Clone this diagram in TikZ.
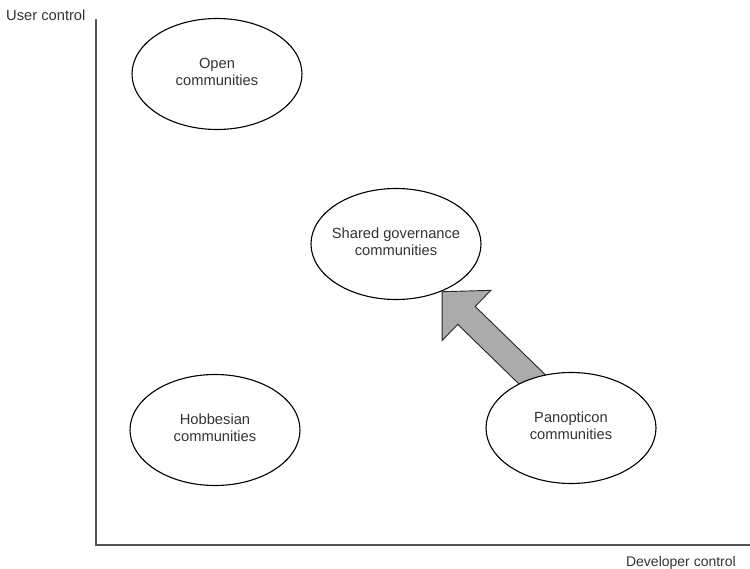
\documentclass[tikz,border=0pt]{standalone}
\usepackage{fontspec}
\setmainfont{Liberation Sans}
\usetikzlibrary{shapes.geometric,calc}
\pgfdeclarelayer{bg}
\pgfsetlayers{bg,main}
\definecolor{txt}{HTML}{333333}
\definecolor{axisc}{HTML}{555555}
\definecolor{arrfill}{HTML}{ABABAB}
\newcommand\twolines[2]{\makebox[0pt]{\begin{tabular}{@{}c@{}}#1\\#2\end{tabular}}}
\begin{document}
\begin{tikzpicture}[x=1pt,y=-1pt,
  comm/.style={ellipse, draw=black, line width=1.1pt, fill=white, minimum width=170pt, minimum height=111pt, inner sep=0pt, text=txt, font=\fontsize{14.7}{17}\selectfont},
  axisline/.style={draw=axisc, line width=1.8pt},
  axislabel/.style={text=txt, inner sep=0pt},
  blockarrow/.style={draw=black!85, line width=0.9pt, fill=arrfill, line join=miter}]
\useasboundingbox (0,0) rectangle (750,569);
% axes
\coordinate (ytop) at (96,19);
\coordinate (origin) at (96,545);
\coordinate (xend) at (750,545);
\draw[axisline] (ytop) -- (origin) -- (xend);
\node[axislabel, anchor=base west, font=\fontsize{14.7}{17}\selectfont] (ylab) at (6,21) {User control};
\node[axislabel, anchor=base east, font=\fontsize{14}{16}\selectfont] (xlab) at (736,566) {Developer control};
% communities
\node[comm] (open) at (217,74) {\twolines{Open}{communities}};
\node[comm] (sg) at (396,244) {\twolines{Shared governance}{communities}};
\node[comm] (hob) at (215,430) {\twolines{Hobbesian}{communities}};
\node[comm] (pan) at (571,428) {\twolines{Panopticon}{communities}};
% block arrow from Panopticon to Shared governance
\coordinate (tip) at (sg.-46);
\coordinate (astart) at ($(pan.center)+(-31,-41)$);
\begin{pgfonlayer}{bg}
\draw[blockarrow] let \p1=($(tip)-(astart)$), \n1={atan2(\y1,\x1)}, \n2={veclen(\x1,\y1)} in
  [shift={(astart)}, rotate=\n1, x=1pt, y=1pt]
  (0,-12.5) -- (\n2-34,-12.5) -- (\n2-34,-35) -- (\n2,0) -- (\n2-34,35) -- (\n2-34,12.5) -- (0,12.5) -- cycle;
\end{pgfonlayer}
\end{tikzpicture}
\end{document}
